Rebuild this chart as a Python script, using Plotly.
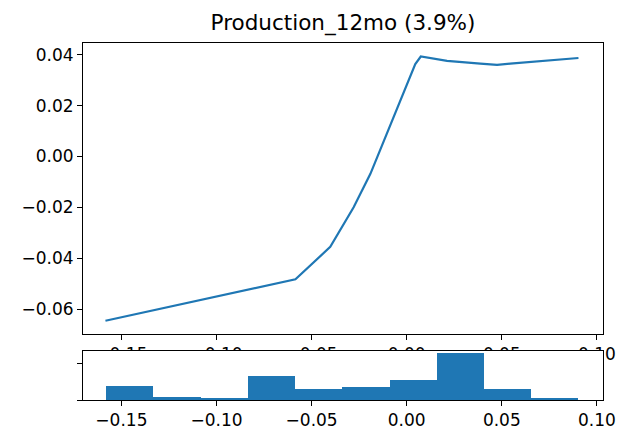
import numpy as np
import plotly.graph_objects as go

# Partial dependence curve for Production_12mo
pd_x = [-0.1584, -0.0585, -0.0402, -0.0279, -0.0191, -0.0104,
        -0.0016, 0.0045, 0.0074, 0.0212, 0.0387, 0.0475, 0.0544, 0.0903]
pd_y = [-0.0645, -0.0482, -0.0355, -0.0199, -0.0068, 0.0089,
        0.0252, 0.0363, 0.0393, 0.0376, 0.0365, 0.0360, 0.0365, 0.0387]

# Distribution of the feature values (10 bins)
bin_edges = [-0.1580, -0.1332, -0.1083, -0.0835, -0.0587, -0.0338,
             -0.0090, 0.0158, 0.0407, 0.0655, 0.0903]
bin_counts = [39, 8, 5, 66, 31, 38, 57, 130, 31, 7]

x_ticks = [-0.15, -0.10, -0.05, 0.00, 0.05, 0.10]
y_ticks = [-0.06, -0.04, -0.02, 0.00, 0.02, 0.04]

title_text = "Production_12mo (3.9%)"

edges = np.array(bin_edges)
centers = (edges[:-1] + edges[1:]) / 2
widths = np.diff(edges)

blue = "#1f77b4"
font = "DejaVu Sans"
x_range = [-0.1702, 0.1032]

fig = go.Figure()

# placeholder subplot sharing the histogram's box, so the histogram panel
# is layered above the line panel
fig.add_trace(go.Scatter(x=[], y=[], xaxis="x", yaxis="y", showlegend=False))

fig.add_trace(go.Scatter(x=pd_x, y=pd_y, mode="lines",
                         line=dict(color=blue, width=2.2),
                         xaxis="x2", yaxis="y2", showlegend=False))

fig.add_trace(go.Bar(x=centers, y=bin_counts, width=widths,
                     marker=dict(color=blue, line=dict(width=0)),
                     xaxis="x3", yaxis="y3", showlegend=False))

axis_common = dict(showline=True, linecolor="black", linewidth=1, mirror=True,
                   ticks="outside", ticklen=5, tickwidth=1, tickcolor="black",
                   showgrid=False, zeroline=False, automargin=False,
                   tickfont=dict(family=font, size=17, color="black"))

hist_dom = [0, 0.138]
main_dom = [0.185, 1]

fig.update_layout(
    width=625, height=429,
    margin=dict(l=83, r=22, t=43, b=29),
    paper_bgcolor="white", plot_bgcolor="white",
    bargap=0,
    title=dict(text=title_text, x=343 / 625, xanchor="center",
               y=1 - 22 / 429, yanchor="middle",
               xref="container", yref="container",
               font=dict(family=font, size=21.5, color="black")),
    xaxis=dict(domain=[0, 1], anchor="y", visible=False, range=x_range),
    yaxis=dict(domain=hist_dom, anchor="x", visible=False, range=[0, 1]),
    xaxis2=dict(axis_common, domain=[0, 1], anchor="y2", range=x_range,
                tickvals=x_ticks, tickformat=".2f"),
    yaxis2=dict(axis_common, domain=main_dom, anchor="x2", range=[-0.0697, 0.0446],
                tickvals=y_ticks, tickformat=".2f"),
    xaxis3=dict(axis_common, domain=[0, 1], anchor="y3", range=x_range,
                tickvals=x_ticks, tickformat=".2f"),
    yaxis3=dict(axis_common, domain=hist_dom, anchor="x3",
                range=[0, 1.05 * max(bin_counts)], tickvals=[0, 100],
                showticklabels=False),
)

fig.write_html("out.html")
